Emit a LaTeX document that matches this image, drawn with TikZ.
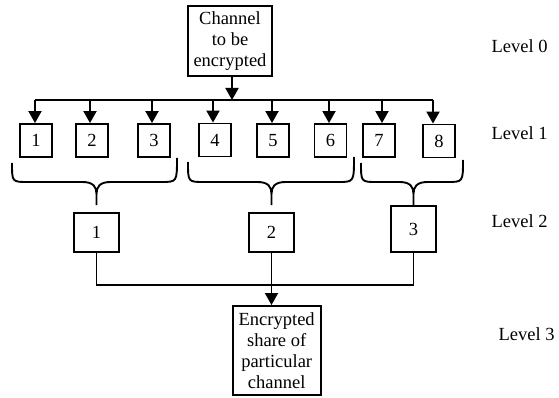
\documentclass[tikz,border=0pt]{standalone}
\usepackage{fontspec}
\setmainfont{Liberation Serif}
\usetikzlibrary{arrows.meta}

% curly brace opening downwards: left x, right x, tip x, left top y, right top y, bar y
\newcommand{\downbrace}[6]{%
  \draw[ln] (#1,#4) .. controls (#1,#6) .. (#1+16,#6) -- (#3-14,#6)
    .. controls (#3-3,#6) and (#3,#6+5) .. (#3,#6+12) -- (#3,#6+23)
    (#3,#6+12) .. controls (#3,#6+5) and (#3+3,#6) .. (#3+14,#6)
    -- (#2-16,#6) .. controls (#2,#6) .. (#2,#5);}

\begin{document}
\begin{tikzpicture}[x=1pt,y=-1pt,
  every node/.style={font=\fontsize{18.5}{20.8}\selectfont},
  ln/.style={line width=1.9pt},
  arr/.style={ln,-{Triangle[width=13pt,length=12pt]}},
  box/.style={draw,line width=1.9pt,inner sep=0pt,align=center},
  sq/.style={box,minimum width=32pt,minimum height=33pt},
  mid/.style={box,minimum width=45pt,minimum height=39pt},
  lvl/.style={anchor=base west}]
\useasboundingbox (0,0) rectangle (559,398);

% level 0
\node[box,minimum width=84pt,minimum height=70pt] (src) at (230,41)
  {Channel\\to be\\encrypted};

% level 1
\node[sq] (b1) at (36,140.5) {1};
\node[sq] (b2) at (92,140.5) {2};
\node[sq] (b3) at (154,140.5) {3};
\node[sq] (b4) at (215,140) {4};
\node[sq] (b5) at (273,140.5) {5};
\node[sq] (b6) at (330.5,140.5) {6};
\node[sq] (b7) at (379,140.5) {7};
\node[sq] (b8) at (439,141) {8};

% level 2
\node[mid] (m1) at (96.5,232.5) {1};
\node[mid] (m2) at (271.5,232.5) {2};
\node[box,minimum width=45pt,minimum height=46pt] (m3) at (413.5,229) {3};

% level 3
\node[box,minimum width=88pt,minimum height=89pt] (out) at (276.7,350.5)
  {Encrypted\\share of\\particular\\channel};

% level labels
\node[lvl] (lv0) at (488,53) {Level 0};
\node[lvl] (lv1) at (488,140) {Level 1};
\node[lvl] (lv2) at (488,227) {Level 2};
\node[lvl] (lv3) at (495,340) {Level 3};

% distribution bus
\coordinate (bus) at (0,100);
\draw[arr] ([xshift=2pt]src.south) -- ([xshift=2pt]src.south |- bus);
\draw[ln] ([xshift=-1pt]b1.north |- bus) -- ([xshift=-6pt]b8.north |- bus);
\draw[arr] ([xshift=-1pt]b1.north |- bus) -- ([xshift=-1pt]b1.north);
\draw[arr] ([xshift=-2pt]b2.north |- bus) -- ([xshift=-2pt]b2.north);
\draw[arr] ([xshift=-2pt]b3.north |- bus) -- ([xshift=-2pt]b3.north);
\draw[arr] ([xshift=-2pt]b4.north |- bus) -- ([xshift=-2pt]b4.north);
\draw[arr] ([xshift=-1pt]b5.north |- bus) -- ([xshift=-1pt]b5.north);
\draw[arr] ([xshift=-1.5pt]b6.north |- bus) -- ([xshift=-1.5pt]b6.north);
\draw[arr] ([xshift=3pt]b7.north |- bus) -- ([xshift=3pt]b7.north);
\draw[arr] ([xshift=-6pt]b8.north |- bus) -- ([xshift=-6pt]b8.north);

% grouping braces
\downbrace{12}{177}{96.5}{163}{158}{182}
\downbrace{188}{354}{271.5}{162}{157}{182}
\downbrace{361}{463}{413.5}{163}{160}{182}

% combining level 2 into level 3
\coordinate (join) at (0,285);
\draw[ln] (m1.south) -- (m1.south |- join) -- (m3.south |- join) -- (m3.south);
\draw[arr] (m2.south) -- (m2.south |- out.north);
\end{tikzpicture}
\end{document}
